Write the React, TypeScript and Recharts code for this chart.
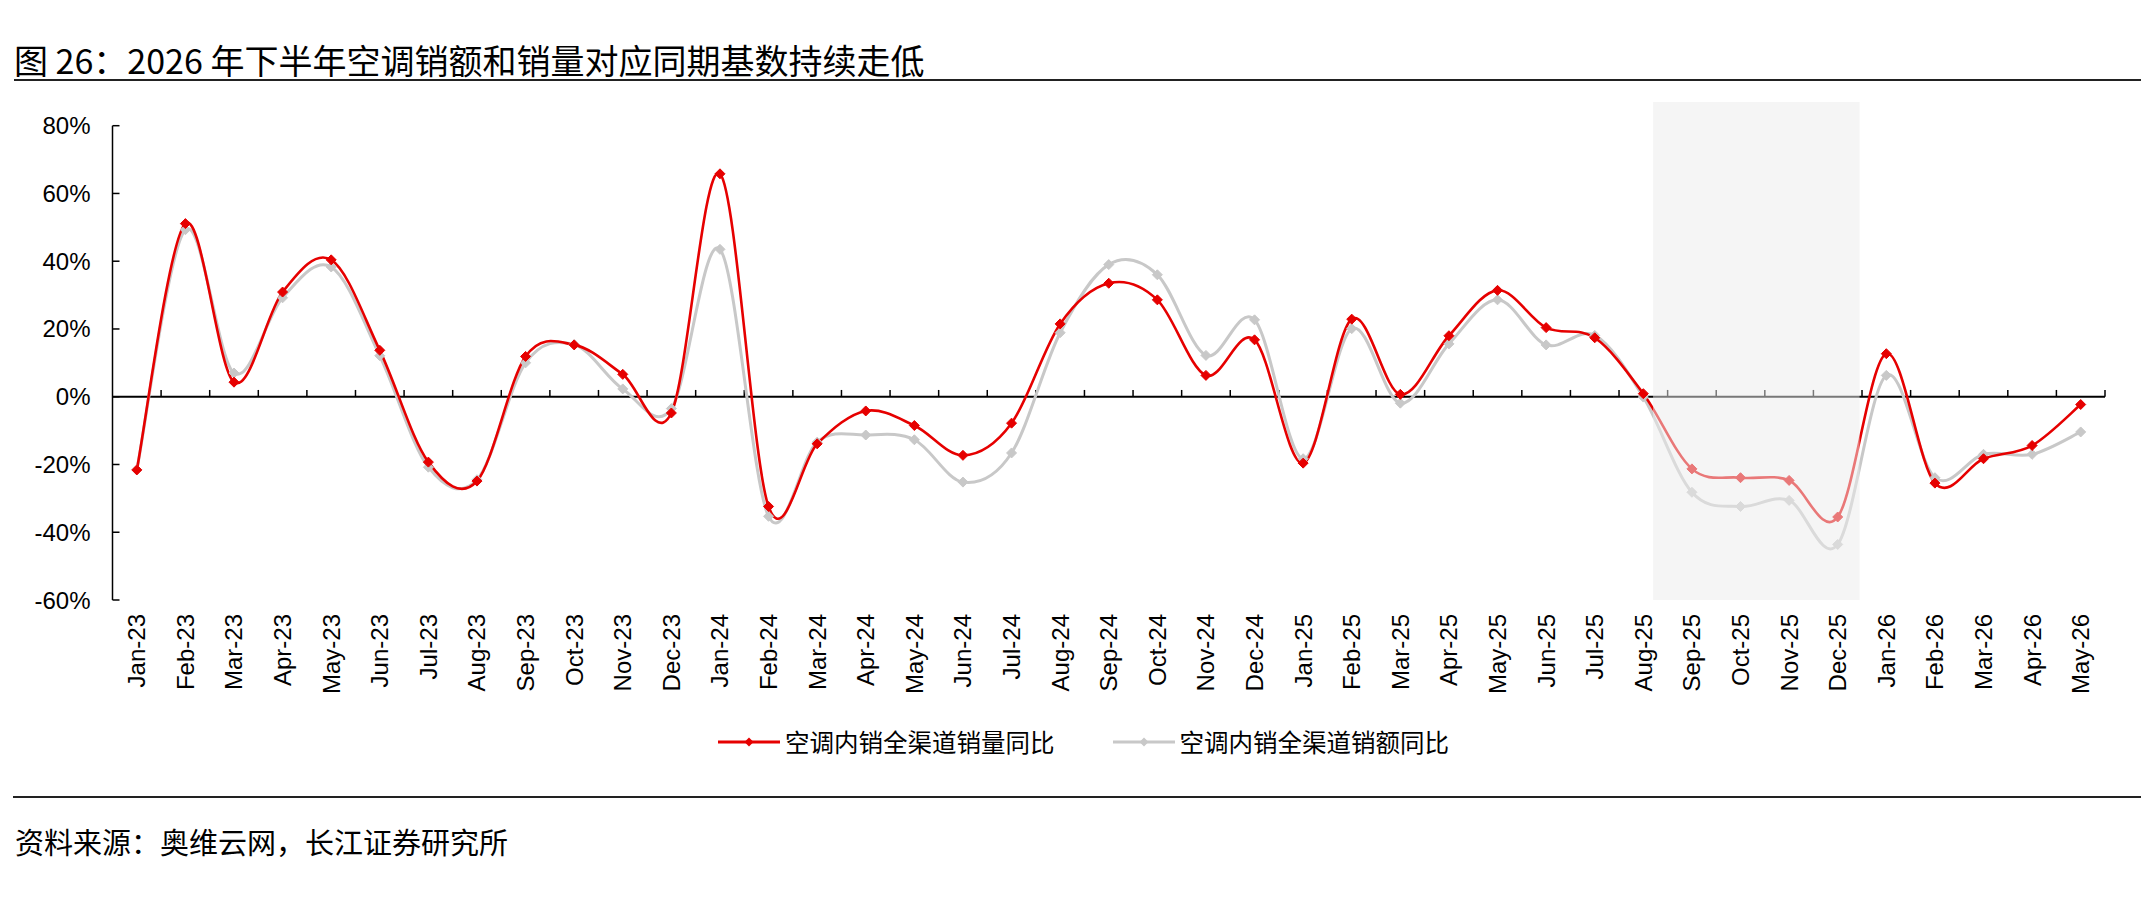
import React from 'react'
import {
  LineChart,
  Line,
  XAxis,
  YAxis,
  ReferenceLine,
  ReferenceArea,
} from 'recharts'

// Month labels, Jan-23 .. May-26
const MONTHS = [
  'Jan-23', 'Feb-23', 'Mar-23', 'Apr-23', 'May-23', 'Jun-23', 'Jul-23', 'Aug-23', 'Sep-23', 'Oct-23', 'Nov-23', 'Dec-23',
  'Jan-24', 'Feb-24', 'Mar-24', 'Apr-24', 'May-24', 'Jun-24', 'Jul-24', 'Aug-24', 'Sep-24', 'Oct-24', 'Nov-24', 'Dec-24',
  'Jan-25', 'Feb-25', 'Mar-25', 'Apr-25', 'May-25', 'Jun-25', 'Jul-25', 'Aug-25', 'Sep-25', 'Oct-25', 'Nov-25', 'Dec-25',
  'Jan-26', 'Feb-26', 'Mar-26', 'Apr-26', 'May-26',
]

// 空调内销全渠道销量同比 (%)
const VOLUME_YOY = [
  -21.6, 51.1, 4.3, 30.9, 40.4, 13.7, -19.3, -24.9, 11.9, 15.3, 6.6, -4.8,
  65.8, -32.4, -13.9, -4.2, -8.5, -17.3, -7.8, 21.5, 33.5, 28.6, 6.3, 16.8,
  -19.6, 22.9, 0.7, 18.0, 31.4, 20.4, 17.4, 0.9, -21.3, -23.9, -24.7, -35.5,
  12.7, -25.5, -18.3, -14.4, -2.3,
]

// 空调内销全渠道销额同比 (%)
const AMOUNT_YOY = [
  -21.6, 49.3, 7.0, 29.2, 38.3, 12.1, -20.8, -24.5, 10.0, 15.4, 2.3, -3.5,
  43.5, -35.3, -13.4, -11.3, -12.7, -25.2, -16.6, 18.9, 39.0, 36.0, 12.2, 22.7,
  -18.3, 20.1, -1.9, 15.6, 28.6, 15.3, 18.1, -0.1, -28.2, -32.4, -30.6, -43.6,
  6.3, -23.9, -17.0, -17.0, -10.4,
]

const Y_TICKS = [-60, -40, -20, 0, 20, 40, 60, 80]

// shaded window, in month-index units (Aug-25 .. Dec-25)
const SHADE_FROM = 31.2
const SHADE_TO = 35.45

const VOLUME_NAME = '空调内销全渠道销量同比'
const AMOUNT_NAME = '空调内销全渠道销额同比'

const RED = '#e60000'
const GREY = '#c8c8c8'
const FONT = '"Liberation Sans", Arial, "Noto Sans CJK SC", sans-serif'
const CJK = '"Noto Sans CJK SC", "Liberation Sans", sans-serif'

const chartData = MONTHS.map((label, i) => ({
  i,
  label,
  volume: VOLUME_YOY[i],
  amount: AMOUNT_YOY[i],
}))

// category boundaries where the small ticks sit on the zero line
const boundaries = MONTHS.map((_, i) => i + 0.5)

/**
 * Excel-like smoothed line (uniform Catmull-Rom as cubic beziers)
 */
function smoothCurve(context: any) {
  let xs: number[] = []
  let ys: number[] = []
  return {
    areaStart() {},
    areaEnd() {},
    lineStart() {
      xs = []
      ys = []
    },
    point(x: number, y: number) {
      xs.push(+x)
      ys.push(+y)
    },
    lineEnd() {
      const n = xs.length
      if (n === 0) return
      context.moveTo(xs[0], ys[0])
      for (let k = 0; k < n - 1; k++) {
        const k0 = Math.max(k - 1, 0)
        const k3 = Math.min(k + 2, n - 1)
        context.bezierCurveTo(
          xs[k] + (xs[k + 1] - xs[k0]) / 6,
          ys[k] + (ys[k + 1] - ys[k0]) / 6,
          xs[k + 1] - (xs[k3] - xs[k]) / 6,
          ys[k + 1] - (ys[k3] - ys[k]) / 6,
          xs[k + 1],
          ys[k + 1]
        )
      }
    },
  }
}

function diamondPath(cx: number, cy: number, r: number) {
  return `M${cx},${cy - r}L${cx + r},${cy}L${cx},${cy + r}L${cx - r},${cy}Z`
}

function makeDot(color: string) {
  return (props: any) => {
    const { cx, cy, index } = props
    if (cx == null || cy == null) return <g key={`d-${index}`} />
    return <path key={`d-${index}`} d={diamondPath(cx, cy, 5)} fill={color} stroke={color} strokeWidth={1} />
  }
}

function YTick(props: any) {
  const { x, y, payload } = props
  return (
    <g>
      <line x1={x} x2={x + 7} y1={y} y2={y} stroke="#000" strokeWidth={1.5} />
      <text x={x - 22} y={y} textAnchor="end" dominantBaseline="central" fontSize={24} fontFamily={FONT} fill="#000">
        {`${payload.value}%`}
      </text>
    </g>
  )
}

function XTick(props: any) {
  const { x, y, payload } = props
  const label = MONTHS[payload.value] ?? ''
  return (
    <text
      x={x}
      y={y}
      transform={`rotate(-90 ${x} ${y})`}
      textAnchor="end"
      dominantBaseline="central"
      fontSize={24}
      fontFamily={FONT}
      fill="#000"
    >
      {label}
    </text>
  )
}

function LegendItem({ color, name }: { color: string; name: string }) {
  return (
    <div style={{ display: 'flex', alignItems: 'center' }}>
      <svg width={62} height={12} style={{ marginRight: 5 }}>
        <line x1={0} x2={62} y1={6} y2={6} stroke={color} strokeWidth={3} />
        <path d={diamondPath(31, 6, 4.5)} fill={color} />
      </svg>
      <span style={{ fontFamily: CJK, fontSize: 24.5, color: '#000', lineHeight: '30px' }}>{name}</span>
    </div>
  )
}

export default function App() {
  return (
    <div style={{ position: 'absolute', left: 0, top: 0, width: 2141, height: 900, background: '#fff', overflow: 'hidden' }}>
      {/* Title */}
      <div
        style={{
          position: 'absolute',
          left: 14,
          top: 41,
          fontFamily: CJK,
          fontSize: 34,
          lineHeight: '38px',
          color: '#000',
          whiteSpace: 'nowrap',
        }}
      >
        图 26：2026 年下半年空调销额和销量对应同期基数持续走低
      </div>
      <div style={{ position: 'absolute', left: 14, right: 0, top: 79, height: 2, background: '#222' }} />

      <div style={{ position: 'absolute', left: 0, top: 0 }}>
        <LineChart
          width={2141}
          height={900}
          data={chartData}
          margin={{ top: 125.7, right: 36, left: 32.5, bottom: 200 }}
        >
          <XAxis
            dataKey="i"
            type="number"
            domain={[-0.5, 40.5]}
            ticks={chartData.map((d) => d.i)}
            interval={0}
            axisLine={false}
            tickLine={false}
            tickSize={0}
            tickMargin={14}
            height={100}
            tick={<XTick />}
          />
          <YAxis
            type="number"
            domain={[-60, 80]}
            ticks={Y_TICKS}
            interval={0}
            width={80}
            axisLine={{ stroke: '#000', strokeWidth: 1.5 }}
            tickLine={false}
            tickSize={0}
            tickMargin={0}
            tick={<YTick />}
          />

          {/* zero line with category ticks */}
          <ReferenceLine y={0} stroke="#000" strokeWidth={2} />
          {boundaries.map((b) => (
            <ReferenceLine
              key={`b-${b}`}
              segment={[
                { x: b, y: 0 },
                { x: b, y: 2 },
              ]}
              stroke="#000"
              strokeWidth={1.5}
            />
          ))}

          <Line
            dataKey="amount"
            name={AMOUNT_NAME}
            type={smoothCurve as any}
            stroke={GREY}
            strokeWidth={3}
            dot={makeDot(GREY)}
            activeDot={false}
            isAnimationActive={false}
          />
          <Line
            dataKey="volume"
            name={VOLUME_NAME}
            type={smoothCurve as any}
            stroke={RED}
            strokeWidth={2.6}
            dot={makeDot(RED)}
            activeDot={false}
            isAnimationActive={false}
          />

          {/* semi-transparent highlight drawn above the lines */}
          <ReferenceArea
            x1={SHADE_FROM}
            x2={SHADE_TO}
            y1={-60}
            y2={87}
            ifOverflow="visible"
            fill="#ebebeb"
            fillOpacity={0.51}
            stroke="none"
            zIndex={1500}
          />
        </LineChart>
      </div>

      {/* Legend */}
      <div style={{ position: 'absolute', left: 718, top: 727, display: 'flex', gap: 58 }}>
        <LegendItem color={RED} name={VOLUME_NAME} />
        <LegendItem color={GREY} name={AMOUNT_NAME} />
      </div>

      <div style={{ position: 'absolute', left: 13, right: 0, top: 796, height: 1.5, background: '#222' }} />
      <div
        style={{
          position: 'absolute',
          left: 15,
          top: 824,
          fontFamily: CJK,
          fontSize: 29,
          lineHeight: '34px',
          color: '#000',
          whiteSpace: 'nowrap',
        }}
      >
        资料来源：奥维云网，长江证券研究所
      </div>
    </div>
  )
}
